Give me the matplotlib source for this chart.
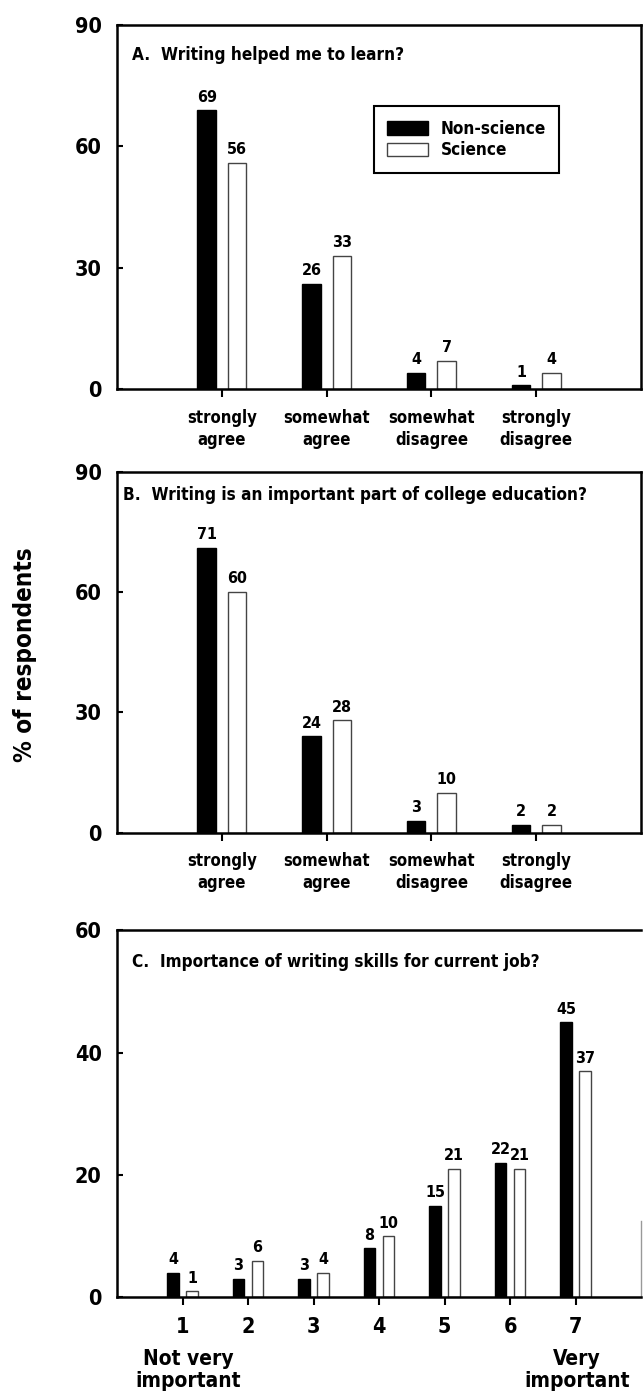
import numpy as np
import matplotlib
matplotlib.use("Agg")
import matplotlib.pyplot as plt
from matplotlib.patches import Patch

plt.rcParams['font.family'] = ['DejaVu Sans']
plt.rcParams['font.weight'] = 'bold'
plt.rcParams['font.stretch'] = 'condensed'

agree_labels = ["strongly\nagree", "somewhat\nagree", "somewhat\ndisagree", "strongly\ndisagree"]
a_nonsci = [69, 26, 4, 1]
a_sci = [56, 33, 7, 4]
b_nonsci = [71, 24, 3, 2]
b_sci = [60, 28, 10, 2]
c_labels = ["1", "2", "3", "4", "5", "6", "7"]
c_nonsci = [4, 3, 3, 8, 15, 22, 45]
c_sci = [1, 6, 4, 10, 21, 21, 37]

W = 0.175
OFF = 0.145


def draw_bars(ax, nonsci, sci, lab_size=11.5):
    x = np.arange(1, len(nonsci) + 1)
    ax.bar(x - OFF, nonsci, W, color="black", edgecolor="black", lw=1, label="Non-science")
    ax.bar(x + OFF, sci, W, color="white", edgecolor="#444444", lw=1, label="Science")
    for xi, v in zip(x - OFF, nonsci):
        ax.annotate(str(v), (xi, v), xytext=(0, 4), textcoords="offset points",
                    ha="center", va="bottom", fontsize=lab_size, fontweight="bold")
    for xi, v in zip(x + OFF, sci):
        ax.annotate(str(v), (xi, v), xytext=(0, 4), textcoords="offset points",
                    ha="center", va="bottom", fontsize=lab_size, fontweight="bold")


def style(ax, n, ymax, yticks, xlabels, xsize):
    ax.set_xlim(0, n + 1)
    ax.set_ylim(0, ymax)
    ax.set_yticks(yticks)
    ax.set_yticklabels([str(t) for t in yticks], fontsize=15.5, fontweight="bold")
    ax.set_xticks(np.arange(1, n + 1))
    ax.set_xticklabels(xlabels, fontsize=xsize, fontweight="bold", linespacing=1.3)
    ax.tick_params(axis="y", direction="in", length=4, width=1.5, pad=11)
    ax.tick_params(axis="x", direction="out", length=6, width=1.5, pad=8)
    for s in ax.spines.values():
        s.set_linewidth(1.8)


fig = plt.figure(figsize=(6.43, 13.95), dpi=100)
axA = fig.add_axes([0.182, 0.721, 0.815, 0.261])
axB = fig.add_axes([0.182, 0.403, 0.815, 0.259])
axC = fig.add_axes([0.182, 0.070, 0.815, 0.263])

draw_bars(axA, a_nonsci, a_sci)
style(axA, 4, 90, [0, 30, 60, 90], agree_labels, 12)
axA.text(0.029, 0.918, "A.  Writing helped me to learn?", transform=axA.transAxes,
         fontsize=12.3, fontweight="bold", va="center", ha="left")
leg = axA.legend(handles=[Patch(facecolor="black", edgecolor="black"),
                          Patch(facecolor="white", edgecolor="#444444")],
                 labels=["Non-science", "Science"], loc="upper left",
                 bbox_to_anchor=(0.49, 0.777), borderaxespad=0, fancybox=False,
                 framealpha=1, edgecolor="black", fontsize=12.3, handlelength=2.4,
                 handleheight=0.8, borderpad=0.8, labelspacing=0.2, handletextpad=0.7)
leg.get_frame().set_linewidth(1.5)

draw_bars(axB, b_nonsci, b_sci)
style(axB, 4, 90, [0, 30, 60, 90], agree_labels, 12)
axB.text(0.011, 0.934, "B.  Writing is an important part of college education?",
         transform=axB.transAxes, fontsize=12.3, fontweight="bold", va="center", ha="left")

draw_bars(axC, c_nonsci, c_sci)
style(axC, 7, 60, [0, 20, 40, 60], c_labels, 15.5)
axC.spines["right"].set_bounds(0, 12.5)
axC.spines["right"].set_color("#999999")
axC.spines["right"].set_linewidth(1)
axC.text(0.029, 0.913, "C.  Importance of writing skills for current job?",
         transform=axC.transAxes, fontsize=12.3, fontweight="bold", va="center", ha="left")
fig.text(188 / 643, 1 - 1370 / 1395, "Not very\nimportant", ha="center", va="center",
         fontsize=15, fontweight="bold", linespacing=1.15)
fig.text(577 / 643, 1 - 1370 / 1395, "Very\nimportant", ha="center", va="center",
         fontsize=15, fontweight="bold", linespacing=1.15)

fig.text(0.039, 1 - 655 / 1395, "% of respondents", rotation=90, ha="center", va="center",
         fontsize=17.4, fontweight="bold")

fig.savefig("out.png", dpi=100)
